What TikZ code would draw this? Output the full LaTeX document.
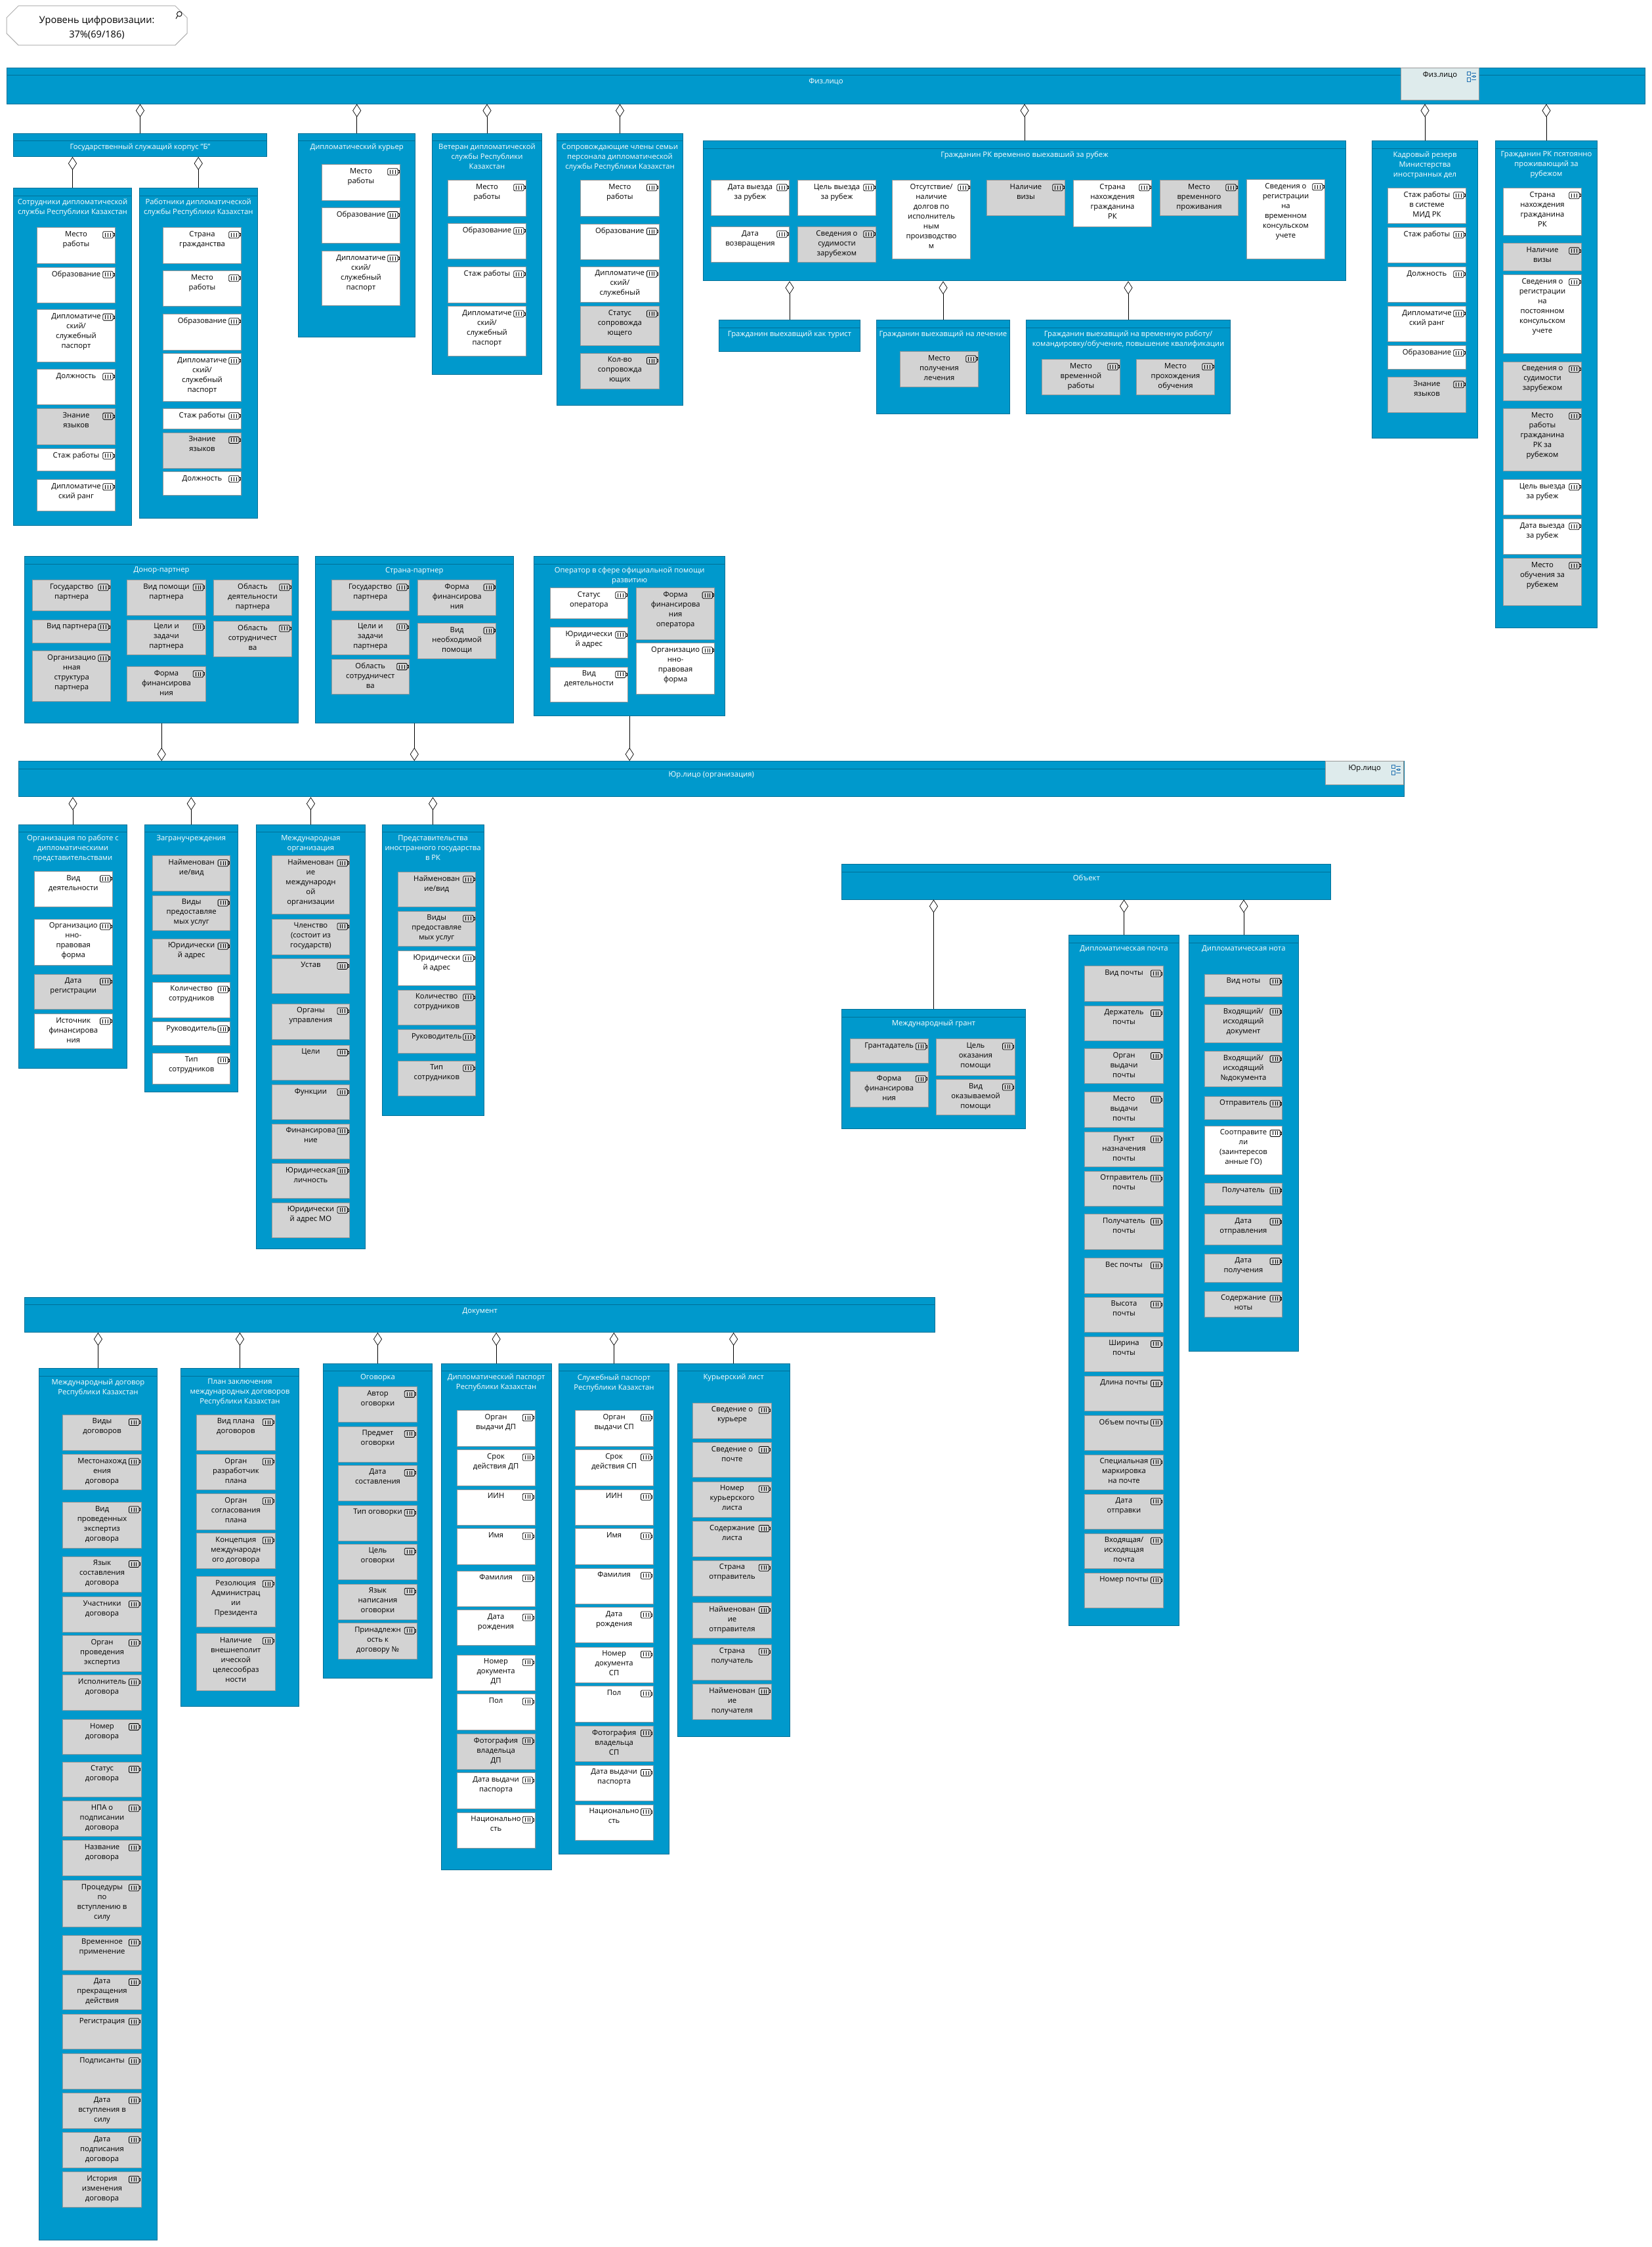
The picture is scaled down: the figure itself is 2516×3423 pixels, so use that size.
\documentclass[tikz,border=0pt]{standalone}
\usepackage{fontspec}
\setmainfont{Open Sans}
\usetikzlibrary{arrows.meta,shapes.misc}
\definecolor{classblue}{HTML}{0099CC}
\definecolor{classedge}{HTML}{006F96}
\definecolor{attrgrey}{HTML}{D3D3D3}
\definecolor{attredge}{HTML}{989898}
\definecolor{capfill}{HTML}{DEEBEC}
\definecolor{iconblue}{HTML}{1F6FB0}
\tikzset{
	attrw/.style={draw=attredge, fill=white, line width=1pt, inner sep=0pt, anchor=north west, font=\fontsize{11.3}{15}\selectfont},
	attrg/.style={attrw, fill=attrgrey},
	classb/.style={draw=classedge, fill=classblue, line width=1pt, inner sep=0pt, anchor=north west, text=white, font=\fontsize{11.3}{15}\selectfont},
	capb/.style={attrw, fill=capfill},
	hdrline/.style={draw=classedge, line width=1pt},
	agg/.style={line width=0.8pt, -{Diamond[length=20pt,width=13pt,fill=white,line width=0.7pt]}},
	batt/.pic={
		\draw[line width=0.8pt, rounded corners=1.5pt] (0,0) rectangle (15.5,10);
		\draw[line width=0.8pt] (15.5,3) -- (17.3,3) -- (17.3,7) -- (15.5,7);
		\foreach \i in {4,7.7,11.3} \draw[line width=0.6pt] (\i,2) -- (\i,8);
	},
	structicon/.pic={
		\draw[iconblue, line width=0.9pt] (0,0) rectangle (5.7,5.3);
		\draw[iconblue, line width=0.9pt] (0,9.7) rectangle (5.7,15);
		\draw[iconblue, line width=0.9pt] (9,6.3) rectangle (12,8.3);
		\draw[iconblue, line width=0.9pt] (7,2.7) -- (14,2.7);
		\draw[iconblue, line width=0.9pt] (7,12.3) -- (14,12.3);
		\draw[iconblue, line width=0.9pt] (7,7.3) -- (9,7.3);
		\draw[iconblue, line width=0.9pt] (12,7.3) -- (14,7.3);
	},
}
\newcommand{\attrbox}[7]{%
	\pgfmathsetlengthmacro{\boxw}{#5-#3}%
	\pgfmathsetlengthmacro{\boxh}{#6-#4}%
	\node[#1] (#2) at (#3,#4) {\parbox[t][\boxh][t]{\boxw}{\vspace*{5.5pt}\centering #7}};
	\pic at ([xshift=-19.3pt,yshift=-6.7pt]#2.north east) {batt};
}
\newcommand{\classbox}[6]{%
	\pgfmathsetlengthmacro{\boxw}{#4-#2}%
	\pgfmathsetlengthmacro{\boxh}{#5-#3}%
	\node[classb] (#1) at (#2,#3) {\parbox[t][\boxh][t]{\boxw}{\vspace*{16pt}\centering #6}};
	\draw[hdrline] ([yshift=-12pt]#1.north west) -- ([yshift=-12pt]#1.north east);
}
\newcommand{\capbox}[6]{%
	\pgfmathsetlengthmacro{\boxw}{#4-#2}%
	\pgfmathsetlengthmacro{\boxh}{#5-#3}%
	\node[capb] (#1) at (#2,#3) {\parbox[t][\boxh][t]{\boxw}{\vspace*{6pt}\centering #6}};
	\pic at ([xshift=-19pt,yshift=-6pt]#1.north east) {structicon};
}
\begin{document}
\begin{tikzpicture}[x=1pt,y=-1pt]
	\useasboundingbox (0,0) rectangle (2516,3423);

	\node[draw=attredge!80, line width=1pt, chamfered rectangle, chamfered rectangle xsep=9pt, chamfered rectangle ysep=9pt, inner sep=0pt, minimum width=275pt, minimum height=57.7pt, align=center, font=\fontsize{14.6}{21.5}\selectfont] (level) at (147.5,38.9) {\rule{0pt}{18pt}Уровень цифровизации:\\37\%(69/186)};
	\draw[line width=0.9pt] (273.3,21.3) circle[radius=3.8];
	\draw[line width=0.9pt] (270.7,24) -- (268,28.6);

	% fiz.lico
	\classbox{fiz}{10}{103}{2506}{157.5}{Физ.лицо}
	\capbox{fizcap}{2134}{103}{2253}{151.5}{Физ.лицо}

	\classbox{gos}{20}{202.5}{406}{238}{Государственный служащий корпус "Б"}

	\classbox{sotr}{20}{286}{200}{799.5}{Сотрудники дипломатической\\службы Республики Казахстан}
	\attrbox{attrw}{sotrA}{56}{346}{175}{400.5}{Место\\работы}
	\attrbox{attrw}{sotrB}{56}{406.6}{175}{460.7}{Образование}
	\attrbox{attrw}{sotrC}{56}{471.4}{175}{550.5}{Дипломатиче\\ский/\\служебный\\паспорт}
	\attrbox{attrw}{sotrD}{56}{562}{175}{616}{Должность}
	\attrbox{attrg}{sotrE}{56}{622.4}{175}{676.5}{Знание\\языков}
	\attrbox{attrw}{sotrF}{56}{682.6}{175}{717.3}{Стаж работы}
	\attrbox{attrw}{sotrG}{56}{730}{175}{777.6}{Дипломатиче\\ский ранг}

	\classbox{rabot}{212}{286}{391.5}{789}{Работники дипломатической\\службы Республики Казахстан}
	\attrbox{attrw}{rabotA}{248}{346}{367}{400.5}{Страна\\гражданства}
	\attrbox{attrw}{rabotB}{248}{412}{367}{466}{Место\\работы}
	\attrbox{attrw}{rabotC}{248}{478}{367}{532.6}{Образование}
	\attrbox{attrw}{rabotD}{248}{538}{367}{610.7}{Дипломатиче\\ский/\\служебный\\паспорт}
	\attrbox{attrw}{rabotE}{248}{622}{367}{652.6}{Стаж работы}
	\attrbox{attrg}{rabotF}{248}{658.7}{367}{712.8}{Знание\\языков}
	\attrbox{attrw}{rabotG}{248}{718}{367}{753.6}{Должность}

	\classbox{kurer}{454}{202.5}{632.4}{513.3}{Дипломатический курьер}
	\attrbox{attrw}{kurerA}{490}{250}{609}{304.6}{Место\\работы}
	\attrbox{attrw}{kurerB}{490}{315.8}{609}{370.4}{Образование}
	\attrbox{attrw}{kurerC}{490}{382}{609}{465.3}{Дипломатиче\\ский/\\служебный\\паспорт}

	\classbox{veteran}{658}{202.5}{825}{570.4}{Ветеран дипломатической\\службы Республики\\Казахстан}
	\attrbox{attrw}{veteranA}{682}{274}{801}{328.6}{Место\\работы}
	\attrbox{attrw}{veteranB}{682}{340}{801}{394.4}{Образование}
	\attrbox{attrw}{veteranC}{682}{406}{801}{460.7}{Стаж работы}
	\attrbox{attrw}{veteranD}{682}{466.3}{801}{542.3}{Дипломатиче\\ский/\\служебный\\паспорт}

	\classbox{soprov}{848}{202.5}{1040}{617.3}{Сопровождающие члены семьи\\персонала дипломатической\\службы Республики Казахстан}
	\attrbox{attrw}{soprovA}{884}{274}{1003.7}{328.6}{Место\\работы}
	\attrbox{attrw}{soprovB}{884}{340.8}{1003.7}{395.4}{Образование}
	\attrbox{attrw}{soprovC}{884}{405.6}{1003.7}{459.7}{Дипломатиче\\ский/\\служебный}
	\attrbox{attrg}{soprovD}{884}{466.3}{1003.7}{525.5}{Статус\\сопровожда\\ющего}
	\attrbox{attrg}{soprovE}{884}{537.8}{1003.7}{592.3}{Кол-во\\сопровожда\\ющих}

	\classbox{vrem}{1071}{214.3}{2050}{427.4}{Гражданин РК временно выехавший за рубеж}
	\attrbox{attrw}{vremA}{1083}{274}{1202}{328}{Дата выезда\\за рубеж}
	\attrbox{attrw}{vremB}{1215}{274}{1334}{328}{Цель выезда\\за рубеж}
	\attrbox{attrw}{vremC}{1083}{345}{1202}{399}{Дата\\возвращения}
	\attrbox{attrg}{vremD}{1215}{345}{1334}{399}{Сведения о\\судимости\\зарубежом}
	\attrbox{attrw}{vremE}{1359}{274}{1478}{394}{Отсутствие/\\наличие\\долгов по\\исполнитель\\ным\\производство\\м}
	\attrbox{attrg}{vremF}{1503}{274}{1622}{328}{Наличие\\визы}
	\attrbox{attrw}{vremG}{1635}{274}{1754}{345}{Страна\\нахождения\\гражданина\\РК}
	\attrbox{attrg}{vremH}{1767}{274}{1886}{328}{Место\\временного\\проживания}
	\attrbox{attrw}{vremI}{1899}{273}{2018}{394}{Сведения о\\регистрации\\на\\временном\\консульском\\учете}

	\classbox{turist}{1095}{487}{1310}{535}{Гражданин выехавщий как турист}
	\classbox{lechen}{1335}{487}{1538}{630.4}{Гражданин выехавщий на лечение}
	\attrbox{attrg}{lechenA}{1371}{535}{1490}{589}{Место\\получения\\лечения}
	\classbox{rabota}{1563}{487}{1874}{630.4}{Гражданин выехавщий на временную работу/\\командировку/обучение, повышение квалификации}
	\attrbox{attrg}{rabotaA}{1587}{547}{1706}{601}{Место\\временной\\работы}
	\attrbox{attrg}{rabotaB}{1731}{547}{1850}{601}{Место\\прохождения\\обучения}

	\classbox{kadr}{2090}{214.3}{2251}{667.4}{Кадровый резерв\\Министерства\\иностранных дел}
	\attrbox{attrw}{kadrA}{2114}{286}{2233}{340}{Стаж работы\\в системе\\МИД РК}
	\attrbox{attrw}{kadrB}{2114}{346}{2233}{400}{Стаж работы}
	\attrbox{attrw}{kadrC}{2114}{406}{2233}{460}{Должность}
	\attrbox{attrw}{kadrD}{2114}{466}{2233}{520}{Дипломатиче\\ский ранг}
	\attrbox{attrw}{kadrE}{2114}{526}{2233}{562}{Образование}
	\attrbox{attrg}{kadrF}{2114}{574}{2233}{628}{Знание\\языков}

	\classbox{pmzh}{2278}{214.3}{2433}{955.5}{Гражданин РК псятоянно\\проживающий за\\рубежом}
	\attrbox{attrw}{pmzhA}{2290}{286}{2409}{357.5}{Страна\\нахождения\\гражданина\\РК}
	\attrbox{attrg}{pmzhB}{2290}{370.4}{2409}{412}{Наличие\\визы}
	\attrbox{attrw}{pmzhC}{2290}{418}{2409}{538}{Сведения о\\регистрации\\на\\постоянном\\консульском\\учете}
	\attrbox{attrg}{pmzhD}{2290}{550.6}{2409}{610}{Сведения о\\судимости\\зарубежом}
	\attrbox{attrg}{pmzhE}{2290}{622}{2409}{717}{Место\\работы\\гражданина\\РК за\\рубежом}
	\attrbox{attrw}{pmzhF}{2290}{730}{2409}{784}{Цель выезда\\за рубеж}
	\attrbox{attrw}{pmzhG}{2290}{790}{2409}{844}{Дата выезда\\за рубеж}
	\attrbox{attrg}{pmzhH}{2290}{850}{2409}{921.5}{Место\\обучения за\\рубежем}

	\draw[agg] (gos.north) -- (gos.north |- fiz.south);
	\draw[agg] (kurer.north) -- (kurer.north |- fiz.south);
	\draw[agg] (veteran.north) -- (veteran.north |- fiz.south);
	\draw[agg] (soprov.north) -- (soprov.north |- fiz.south);
	\draw[agg] (vrem.north) -- (vrem.north |- fiz.south);
	\draw[agg] (kadr.north) -- (kadr.north |- fiz.south);
	\draw[agg] (pmzh.north) -- (pmzh.north |- fiz.south);
	\draw[agg] (sotr.north) -- (sotr.north |- gos.south);
	\draw[agg] (rabot.north) -- (rabot.north |- gos.south);
	\draw[agg] (turist.north) -- (turist.north |- vrem.south);
	\draw[agg] (lechen.north) -- (lechen.north |- vrem.south);
	\draw[agg] (rabota.north) -- (rabota.north |- vrem.south);

	% jur.lico
	\classbox{donor}{37}{847.4}{454.4}{1101.3}{Донор-партнер}
	\attrbox{attrg}{donorA}{49.4}{883}{168}{930}{Государство\\партнера}
	\attrbox{attrg}{donorB}{49.4}{943.5}{168}{978.5}{Вид партнера}
	\attrbox{attrg}{donorC}{49.4}{991}{168}{1068}{Организацио\\нная\\структура\\партнера}
	\attrbox{attrg}{donorD}{193.4}{883}{312.6}{937}{Вид помощи\\партнера}
	\attrbox{attrg}{donorE}{193.4}{943.5}{312.6}{997}{Цели и\\задачи\\партнера}
	\attrbox{attrg}{donorF}{193.4}{1015}{312.6}{1068}{Форма\\финансирова\\ния}
	\attrbox{attrg}{donorG}{325}{883}{444}{937}{Область\\деятельности\\партнера}
	\attrbox{attrg}{donorH}{325}{945.6}{444}{999.6}{Область\\сотрудничест\\ва}

	\classbox{strana}{480}{847.4}{781.6}{1101.3}{Страна-партнер}
	\attrbox{attrg}{stranaA}{504.6}{883}{623}{930}{Государство\\партнера}
	\attrbox{attrg}{stranaB}{504.6}{943.5}{623}{997}{Цели и\\задачи\\партнера}
	\attrbox{attrg}{stranaC}{504.6}{1003.8}{623}{1057}{Область\\сотрудничест\\ва}
	\attrbox{attrg}{stranaD}{636}{883}{755.4}{937}{Форма\\финансирова\\ния}
	\attrbox{attrg}{stranaE}{636}{949}{755.4}{1003}{Вид\\необходимой\\помощи}

	\classbox{oper}{813}{847.4}{1104.4}{1090}{Оператор в сфере официальной помощи\\развитию}
	\attrbox{attrw}{operA}{837.6}{895}{956}{942}{Статус\\оператора}
	\attrbox{attrw}{operB}{837.6}{955.4}{956}{1002.4}{Юридически\\й адрес}
	\attrbox{attrw}{operC}{837.6}{1015.7}{956}{1069}{Вид\\деятельности}
	\attrbox{attrg}{operD}{969}{895}{1088.4}{974.3}{Форма\\финансирова\\ния\\оператора}
	\attrbox{attrw}{operE}{969}{979}{1088.4}{1057}{Организацио\\нно-\\правовая\\форма}

	\classbox{yur}{27.6}{1159}{2139}{1213.3}{Юр.лицо (организация)}
	\capbox{yurcap}{2019.3}{1159}{2138}{1195.3}{Юр.лицо}

	\classbox{org}{27.6}{1255.6}{193.4}{1627.4}{Организация по работе с\\дипломатическими\\представительствами}
	\attrbox{attrw}{orgA}{51.6}{1327}{170.9}{1381}{Вид\\деятельности}
	\attrbox{attrw}{orgB}{51.6}{1399.5}{170.9}{1469.6}{Организацио\\нно-\\правовая\\форма}
	\attrbox{attrg}{orgC}{51.6}{1483.6}{170.9}{1537}{Дата\\регистрации}
	\attrbox{attrw}{orgD}{51.6}{1544}{170.9}{1597}{Источник\\финансирова\\ния}

	\classbox{zagran}{219.6}{1255.6}{362}{1663}{Загранучреждения}
	\attrbox{attrg}{zagranA}{232}{1303}{350.4}{1356.6}{Найменован\\ие/вид}
	\attrbox{attrg}{zagranB}{232}{1363.6}{350.4}{1417}{Виды\\предоставляе\\мых услуг}
	\attrbox{attrg}{zagranC}{232}{1429.6}{350.4}{1483.6}{Юридически\\й адрес}
	\attrbox{attrw}{zagranD}{232}{1495.6}{350.4}{1549.6}{Количество\\сотрудников}
	\attrbox{attrw}{zagranE}{232}{1556}{350.4}{1592.4}{Руководитель}
	\attrbox{attrw}{zagranF}{232}{1603.6}{350.4}{1651.3}{Тип\\сотрудников}

	\classbox{mezhd}{389.7}{1255.6}{556.2}{1902.4}{Международная\\организация}
	\attrbox{attrg}{mezhdA}{413.7}{1303}{532.2}{1392.4}{Найменован\\ие\\международн\\ой\\организации}
	\attrbox{attrg}{mezhdB}{413.7}{1399.5}{532.2}{1453.5}{Членство\\(состоит из\\государств)}
	\attrbox{attrg}{mezhdC}{413.7}{1459.8}{532.2}{1513}{Устав}
	\attrbox{attrg}{mezhdD}{413.7}{1528.5}{532.2}{1582.5}{Органы\\управления}
	\attrbox{attrg}{mezhdE}{413.7}{1591.7}{532.2}{1645}{Цели}
	\attrbox{attrg}{mezhdF}{413.7}{1652}{532.2}{1705}{Функции}
	\attrbox{attrg}{mezhdG}{413.7}{1711.6}{532.2}{1765}{Финансирова\\ние}
	\attrbox{attrg}{mezhdH}{413.7}{1772}{532.2}{1825}{Юридическая\\личность}
	\attrbox{attrg}{mezhdI}{413.7}{1831.6}{532.2}{1885}{Юридически\\й адрес МО}

	\classbox{predst}{581.6}{1255.6}{736.5}{1699}{Представительства\\иностранного государства\\в РК}
	\attrbox{attrg}{predstA}{605.6}{1328}{724}{1381}{Найменован\\ие/вид}
	\attrbox{attrg}{predstB}{605.6}{1387.5}{724}{1441}{Виды\\предоставляе\\мых услуг}
	\attrbox{attrw}{predstC}{605.6}{1448}{724}{1501}{Юридически\\й адрес}
	\attrbox{attrg}{predstD}{605.6}{1507.5}{724}{1561}{Количество\\сотрудников}
	\attrbox{attrg}{predstE}{605.6}{1568}{724}{1603.6}{Руководитель}
	\attrbox{attrg}{predstF}{605.6}{1615.5}{724}{1669}{Тип\\сотрудников}

	\draw[agg] (donor.south) -- (donor.south |- yur.north);
	\draw[agg] (strana.south) -- (strana.south |- yur.north);
	\draw[agg] (oper.south) -- (oper.south |- yur.north);
	\draw[agg] (org.north) -- (org.north |- yur.south);
	\draw[agg] (zagran.north) -- (zagran.north |- yur.south);
	\draw[agg] (mezhd.north) -- (mezhd.north |- yur.south);
	\draw[agg] (predst.north) -- (predst.north |- yur.south);

	% obekt
	\classbox{obj}{1282.4}{1316}{2027.3}{1369.5}{Объект}

	\classbox{grant}{1282.4}{1537}{1561.5}{1719.3}{Международный грант}
	\attrbox{attrg}{grantA}{1294.7}{1582.3}{1413.6}{1619}{Грантадатель}
	\attrbox{attrg}{grantB}{1294.7}{1632}{1413.6}{1686.4}{Форма\\финансирова\\ния}
	\attrbox{attrg}{grantC}{1426.3}{1582.3}{1545.7}{1638}{Цель\\оказания\\помощи}
	\attrbox{attrg}{grantD}{1426.3}{1644.3}{1545.7}{1698}{Вид\\оказываемой\\помощи}

	\classbox{pochta}{1628.4}{1424}{1795.7}{2476}{Дипломатическая почта}
	\attrbox{attrg}{pochtaA}{1652.3}{1471.3}{1771.7}{1525}{Вид почты}
	\attrbox{attrg}{pochtaB}{1652.3}{1531.8}{1771.7}{1585.3}{Держатель\\почты}
	\attrbox{attrg}{pochtaC}{1652.3}{1596.8}{1771.7}{1650.4}{Орган\\выдачи\\почты}
	\attrbox{attrg}{pochtaD}{1652.3}{1663.4}{1771.7}{1717}{Место\\выдачи\\почты}
	\attrbox{attrg}{pochtaE}{1652.3}{1724}{1771.7}{1777.4}{Пункт\\назначения\\почты}
	\attrbox{attrg}{pochtaF}{1652.3}{1783.6}{1771.7}{1837}{Отправитель\\почты}
	\attrbox{attrg}{pochtaG}{1652.3}{1849.4}{1771.7}{1903}{Получатель\\почты}
	\attrbox{attrg}{pochtaH}{1652.3}{1916}{1771.7}{1969.5}{Вес почты}
	\attrbox{attrg}{pochtaI}{1652.3}{1975.6}{1771.7}{2029}{Высота\\почты}
	\attrbox{attrg}{pochtaJ}{1652.3}{2035.7}{1771.7}{2089}{Ширина\\почты}
	\attrbox{attrg}{pochtaK}{1652.3}{2095.8}{1771.7}{2149}{Длина почты}
	\attrbox{attrg}{pochtaL}{1652.3}{2155.5}{1771.7}{2209}{Объем почты}
	\attrbox{attrg}{pochtaM}{1652.3}{2215.6}{1771.7}{2269}{Специальная\\маркировка\\на почте}
	\attrbox{attrg}{pochtaN}{1652.3}{2275.6}{1771.7}{2329}{Дата\\отправки}
	\attrbox{attrg}{pochtaO}{1652.3}{2335.6}{1771.7}{2389}{Входящая/\\исходящая\\почта}
	\attrbox{attrg}{pochtaP}{1652.3}{2395.6}{1771.7}{2449.3}{Номер почты}

	\classbox{nota}{1810.5}{1424}{1978.4}{2058}{Дипломатическая нота}
	\attrbox{attrg}{notaA}{1834.5}{1483.6}{1953.4}{1518}{Вид ноты}
	\attrbox{attrg}{notaB}{1834.5}{1529.5}{1953.4}{1588.4}{Входящий/\\исходящий\\документ}
	\attrbox{attrg}{notaC}{1834.5}{1601.4}{1953.4}{1655}{Входящий/\\исходящий\\№документа}
	\attrbox{attrg}{notaD}{1834.5}{1669.5}{1953.4}{1704.7}{Отправитель}
	\attrbox{attrw}{notaE}{1834.5}{1714.7}{1953.4}{1789}{Соотправите\\ли\\(заинтересов\\анные ГО)}
	\attrbox{attrg}{notaF}{1834.5}{1802}{1953.4}{1836.4}{Получатель}
	\attrbox{attrg}{notaG}{1834.5}{1849.4}{1953.4}{1896}{Дата\\отправления}
	\attrbox{attrg}{notaH}{1834.5}{1909.8}{1953.4}{1952.7}{Дата\\получения}
	\attrbox{attrg}{notaI}{1834.5}{1966.5}{1953.4}{2005.5}{Содержание\\ноты}

	\draw[agg] (grant.north) -- (grant.north |- obj.south);
	\draw[agg] (pochta.north) -- (pochta.north |- obj.south);
	\draw[agg] (nota.north) -- (nota.north |- obj.south);

	% dokument
	\classbox{doc}{37.3}{1975.5}{1424.3}{2029}{Документ}

	\classbox{dogovor}{59.4}{2084.3}{238.5}{3411.7}{Международный договор\\Республики Казахстан}
	\attrbox{attrg}{dogovorA}{95.4}{2154.8}{214.7}{2209.3}{Виды\\договоров}
	\attrbox{attrg}{dogovorB}{95.4}{2215}{214.7}{2269.4}{Местонахожд\\ения\\договора}
	\attrbox{attrg}{dogovorC}{95.4}{2288}{214.7}{2357.7}{Вид\\проведенных\\экспертиз\\договора}
	\attrbox{attrg}{dogovorD}{95.4}{2370.8}{214.7}{2425.3}{Язык\\составления\\договора}
	\attrbox{attrg}{dogovorE}{95.4}{2432}{214.7}{2485.5}{Участники\\договора}
	\attrbox{attrg}{dogovorF}{95.4}{2491}{214.7}{2545.6}{Орган\\проведения\\экспертиз}
	\attrbox{attrg}{dogovorG}{95.4}{2551}{214.7}{2604.8}{Исполнитель\\договора}
	\attrbox{attrg}{dogovorH}{95.4}{2618.9}{214.7}{2672.4}{Номер\\договора}
	\attrbox{attrg}{dogovorI}{95.4}{2683.7}{214.7}{2737.2}{Статус\\договора}
	\attrbox{attrg}{dogovorJ}{95.4}{2743}{214.7}{2797.3}{НПА о\\подписании\\договора}
	\attrbox{attrg}{dogovorK}{95.4}{2803}{214.7}{2856.5}{Название\\договора}
	\attrbox{attrg}{dogovorL}{95.4}{2864}{214.7}{2934.5}{Процедуры\\по\\вступлению в\\силу}
	\attrbox{attrg}{dogovorM}{95.4}{2947.6}{214.7}{3001}{Временное\\применение}
	\attrbox{attrg}{dogovorN}{95.4}{3007.8}{214.7}{3061.3}{Дата\\прекращения\\действия}
	\attrbox{attrg}{dogovorO}{95.4}{3068}{214.7}{3121.4}{Регистрация}
	\attrbox{attrg}{dogovorP}{95.4}{3128}{214.7}{3181.5}{Подписанты}
	\attrbox{attrg}{dogovorQ}{95.4}{3188}{214.7}{3241.7}{Дата\\вступления в\\силу}
	\attrbox{attrg}{dogovorR}{95.4}{3248}{214.7}{3301.8}{Дата\\подписания\\договора}
	\attrbox{attrg}{dogovorS}{95.4}{3308.4}{214.7}{3362}{История\\изменения\\договора}

	\classbox{plan}{275.4}{2084.3}{454.5}{2599}{План заключения\\международных договоров\\Республики Казахстан}
	\attrbox{attrg}{planA}{299.2}{2154.8}{418.5}{2209.3}{Вид плана\\договоров}
	\attrbox{attrg}{planB}{299.2}{2215}{418.5}{2269.4}{Орган\\разработчик\\плана}
	\attrbox{attrg}{planC}{299.2}{2275}{418.5}{2329.5}{Орган\\согласования\\плана}
	\attrbox{attrg}{planD}{299.2}{2335}{418.5}{2388.7}{Концепция\\международн\\ого договора}
	\attrbox{attrg}{planE}{299.2}{2401}{418.5}{2478}{Резолюция\\Администрац\\ии\\Президента}
	\attrbox{attrg}{planF}{299.2}{2488}{418.5}{2574.7}{Наличие\\внешнеполит\\ической\\целесообраз\\ности}

	\classbox{ogov}{491.6}{2076.9}{658.4}{2555.6}{Оговорка}
	\attrbox{attrg}{ogovA}{515.4}{2111.9}{634.6}{2166.4}{Автор\\оговорки}
	\attrbox{attrg}{ogovB}{515.4}{2172.7}{634.6}{2226.7}{Предмет\\оговорки}
	\attrbox{attrg}{ogovC}{515.4}{2231.9}{634.6}{2286.4}{Дата\\составления}
	\attrbox{attrg}{ogovD}{515.4}{2292.7}{634.6}{2346.7}{Тип оговорки}
	\attrbox{attrg}{ogovE}{515.4}{2351.8}{634.6}{2406.4}{Цель\\оговорки}
	\attrbox{attrg}{ogovF}{515.4}{2412.7}{634.6}{2466.7}{Язык\\написания\\оговорки}
	\attrbox{attrg}{ogovG}{515.4}{2472.4}{634.6}{2527}{Принадлежн\\ость к\\договору №}

	\classbox{dp}{671.5}{2076.9}{839.7}{2847.8}{Дипломатический паспорт\\Республики Казахстан}
	\attrbox{attrw}{dpA}{695.7}{2148}{814.5}{2202.6}{Орган\\выдачи ДП}
	\attrbox{attrw}{dpB}{695.7}{2208.3}{814.5}{2262.9}{Срок\\действия ДП}
	\attrbox{attrw}{dpC}{695.7}{2268.6}{814.5}{2322.6}{ИИН}
	\attrbox{attrw}{dpD}{695.7}{2328.3}{814.5}{2382.8}{Имя}
	\attrbox{attrw}{dpE}{695.7}{2392.6}{814.5}{2446.6}{Фамилия}
	\attrbox{attrw}{dpF}{695.7}{2452.3}{814.5}{2506.3}{Дата\\рождения}
	\attrbox{attrw}{dpG}{695.7}{2520.6}{814.5}{2574.6}{Номер\\документа\\ДП}
	\attrbox{attrw}{dpH}{695.7}{2580.3}{814.5}{2634.8}{Пол}
	\attrbox{attrg}{dpI}{695.7}{2640.6}{814.5}{2694.5}{Фотография\\владельца\\ДП}
	\attrbox{attrw}{dpJ}{695.7}{2700.3}{814.5}{2754.8}{Дата выдачи\\паспорта}
	\attrbox{attrw}{dpK}{695.7}{2760.6}{814.5}{2814.5}{Национально\\сть}

	\classbox{sp}{851.3}{2076.9}{1018.5}{2824.3}{Служебный паспорт\\Республики Казахстан}
	\attrbox{attrw}{spA}{875.5}{2148}{994.8}{2202.6}{Орган\\выдачи СП}
	\attrbox{attrw}{spB}{875.5}{2208.3}{994.8}{2262.9}{Срок\\действия СП}
	\attrbox{attrw}{spC}{875.5}{2268.6}{994.8}{2322.6}{ИИН}
	\attrbox{attrw}{spD}{875.5}{2328.3}{994.8}{2382.8}{Имя}
	\attrbox{attrw}{spE}{875.5}{2388.6}{994.8}{2442.5}{Фамилия}
	\attrbox{attrw}{spF}{875.5}{2448.3}{994.8}{2502.3}{Дата\\рождения}
	\attrbox{attrw}{spG}{875.5}{2508.5}{994.8}{2562.5}{Номер\\документа\\СП}
	\attrbox{attrw}{spH}{875.5}{2568.3}{994.8}{2622.8}{Пол}
	\attrbox{attrg}{spI}{875.5}{2628.5}{994.8}{2682.5}{Фотография\\владельца\\СП}
	\attrbox{attrw}{spJ}{875.5}{2688.8}{994.8}{2742.8}{Дата выдачи\\паспорта}
	\attrbox{attrw}{spK}{875.5}{2748.5}{994.8}{2802.5}{Национально\\сть}

	\classbox{kurlist}{1031.6}{2076.9}{1202.7}{2644.6}{Курьерский лист}
	\attrbox{attrg}{kurlistA}{1055.4}{2136.6}{1174.6}{2190.5}{Сведение о\\курьере}
	\attrbox{attrg}{kurlistB}{1055.4}{2196.8}{1174.6}{2250.2}{Сведение о\\почте}
	\attrbox{attrg}{kurlistC}{1055.4}{2256.5}{1174.6}{2310.5}{Номер\\курьерского\\листа}
	\attrbox{attrg}{kurlistD}{1055.4}{2316.8}{1174.6}{2370.8}{Содержание\\листа}
	\attrbox{attrg}{kurlistE}{1055.4}{2376.5}{1174.6}{2430.5}{Страна\\отправитель}
	\attrbox{attrg}{kurlistF}{1055.4}{2440.8}{1174.6}{2494.8}{Найменован\\ие\\отправителя}
	\attrbox{attrg}{kurlistG}{1055.4}{2504.5}{1174.6}{2558.5}{Страна\\получатель}
	\attrbox{attrg}{kurlistH}{1055.4}{2564.8}{1174.6}{2618.8}{Найменован\\ие\\получателя}

	\draw[agg] (dogovor.north) -- (dogovor.north |- doc.south);
	\draw[agg] (plan.north) -- (plan.north |- doc.south);
	\draw[agg] (ogov.north) -- (ogov.north |- doc.south);
	\draw[agg] (dp.north) -- (dp.north |- doc.south);
	\draw[agg] (sp.north) -- (sp.north |- doc.south);
	\draw[agg] (kurlist.north) -- (kurlist.north |- doc.south);
\end{tikzpicture}
\end{document}
